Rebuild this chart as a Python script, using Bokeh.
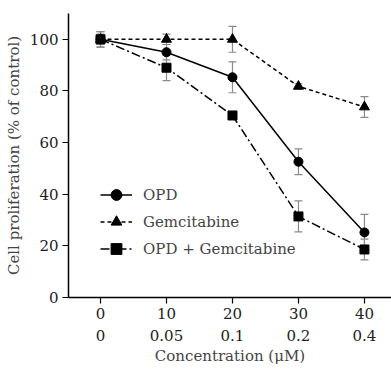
from bokeh.plotting import figure
from bokeh.models import ColumnDataSource, Whisker, TeeHead, LinearAxis, FixedTicker, Range1d, Legend, LegendItem
from bokeh.embed import file_html
from bokeh.resources import INLINE

# Data
opd_conc = ["0", "10", "20", "30", "40"]
gem_conc = ["0", "0.05", "0.1", "0.2", "0.4"]
opd = [100, 95, 85.3, 52.6, 25.2]
opd_err = [3, 3, 6, 5, 7]
gem = [100, 100, 100, 81.8, 73.8]
gem_err = [2, 2, 5, 1, 4]
combo = [100, 89, 70.5, 31.4, 18.6]
combo_err = [3, 5, 1.5, 6, 4]

FONT = "DejaVu Serif"
FS = "15px"
idx = list(range(len(opd_conc)))

p = figure(frame_width=323, frame_height=284, output_backend="svg", toolbar_location=None,
           x_range=Range1d(-0.485, 4.41), y_range=Range1d(0, 110),
           min_border_left=68, min_border_right=0, min_border_top=13, min_border_bottom=74,
           x_axis_location=None)
p.outline_line_color = None
p.grid.grid_line_color = None
p.background_fill_color = None
p.border_fill_color = "white"

# y axis
ya = p.yaxis[0]
ya.ticker = FixedTicker(ticks=[0, 20, 40, 60, 80, 100])
ya.axis_label = "Cell proliferation (% of control)"
ya.axis_label_text_font = FONT
ya.axis_label_text_font_style = "normal"
ya.axis_label_text_font_size = FS
ya.axis_label_standoff = 4
ya.major_label_text_font = FONT
ya.major_label_text_font_size = FS
ya.minor_tick_line_color = None
ya.major_tick_out = 6
ya.major_tick_in = 0
ya.axis_line_width = 1.5
ya.major_tick_line_width = 1.2
ya.major_label_text_color = "#222222"
ya.major_label_standoff = 4

# x axis row 1
xa1 = LinearAxis(ticker=FixedTicker(ticks=idx),
                 major_label_overrides={i: s for i, s in zip(idx, opd_conc)})
xa1.major_label_text_font = FONT
xa1.major_label_text_font_size = FS
xa1.major_label_text_color = "#222222"
xa1.minor_tick_line_color = None
xa1.major_tick_out = 6
xa1.major_tick_in = 0
xa1.axis_line_width = 1.5
xa1.major_tick_line_width = 1.2
xa1.major_label_standoff = 4
p.add_layout(xa1, "below")

# x axis row 2
xa2 = LinearAxis(ticker=FixedTicker(ticks=idx),
                 major_label_overrides={i: s for i, s in zip(idx, gem_conc)})
xa2.major_label_text_font = FONT
xa2.major_label_text_font_size = FS
xa2.major_label_text_color = "#222222"
xa2.minor_tick_line_color = None
xa2.major_tick_line_color = None
xa2.axis_line_color = None
xa2.major_label_standoff = 2
xa2.axis_label = "Concentration (μM)"
xa2.axis_label_text_font = FONT
xa2.axis_label_text_font_style = "normal"
xa2.axis_label_text_font_size = FS
xa2.axis_label_standoff = 3
p.add_layout(xa2, "below")

items = []
series = [
    ("OPD", opd, opd_err, "solid", "circle", 9),
    ("Gemcitabine", gem, gem_err, "4 3", "triangle", 10),
    ("OPD + Gemcitabine", combo, combo_err, "9 3 2 3", "square", 9),
]
for name, vals, err, dash, marker, size in series:
    src = ColumnDataSource(dict(x=idx, y=vals,
                                lo=[v - e for v, e in zip(vals, err)],
                                hi=[v + e for v, e in zip(vals, err)]))
    w = Whisker(source=src, base="x", upper="hi", lower="lo",
                line_color="#8a8a8a", line_width=1.2,
                upper_head=TeeHead(size=8, line_color="#8a8a8a", line_width=1.2),
                lower_head=TeeHead(size=8, line_color="#8a8a8a", line_width=1.2))
    p.add_layout(w)
for name, vals, err, dash, marker, size in series:
    src = ColumnDataSource(dict(x=idx, y=vals))
    l = p.line("x", "y", source=src, line_color="black", line_width=1.5, line_dash=dash)
    s = p.scatter("x", "y", source=src, marker=marker, size=size, fill_color="black", line_color="black")
    items.append(LegendItem(label=name, renderers=[l, s]))

legend = Legend(items=items, location=(32, 35), padding=0, margin=0, spacing=0,
                glyph_width=32, glyph_height=27, label_height=27,
                label_text_font=FONT, label_text_font_size=FS,
                label_standoff=11,
                border_line_color=None, background_fill_alpha=0)
p.add_layout(legend, "center")

open("out.html", "w").write(file_html(p, INLINE))
